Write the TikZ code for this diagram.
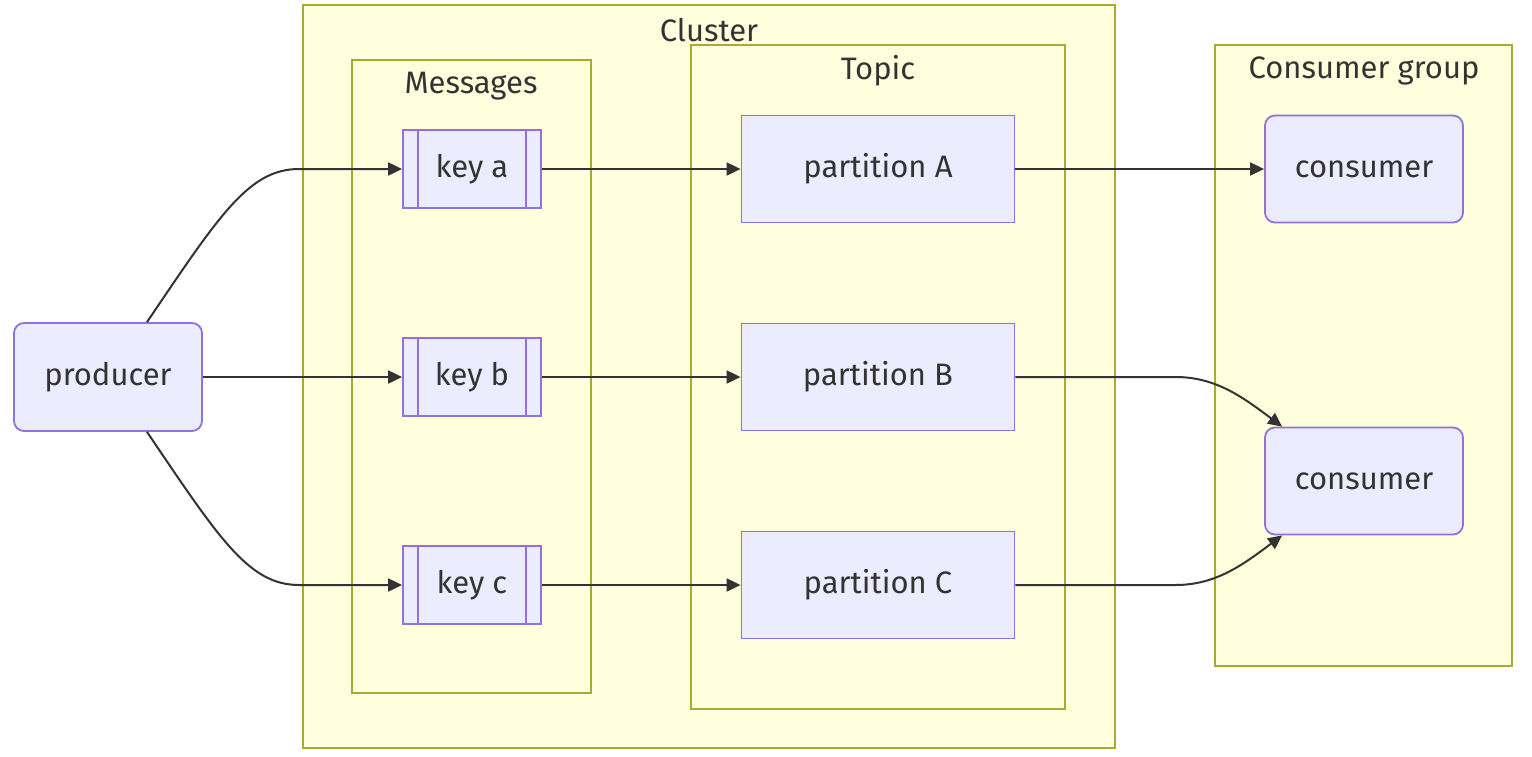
\documentclass[tikz,border=0pt]{standalone}
\usepackage{fontspec}
\setmainfont{Fira Sans}
\usetikzlibrary{arrows.meta}
\definecolor{nodefill}{HTML}{ECECFF}
\definecolor{nodeline}{HTML}{9370DB}
\definecolor{boxfill}{HTML}{FFFFDE}
\definecolor{boxline}{HTML}{AAAA33}
\definecolor{ink}{HTML}{333333}
\begin{document}
\begin{tikzpicture}[x=1pt,y=-1pt,->,>={Triangle[length=14pt,width=13pt]},
		font=\fontsize{31}{37}\selectfont,text=ink]
		\tikzstyle{group}=[draw=boxline,fill=boxfill,line width=1.8pt,inner sep=0pt]
		\tikzstyle{roundbox}=[draw=nodeline,fill=nodefill,line width=1.8pt,rounded corners=10pt]
		\tikzstyle{plainbox}=[draw=nodeline,fill=nodefill,line width=1.8pt]
		\tikzstyle{keybox}=[plainbox,minimum width=138,minimum height=78,
			path picture={\draw[-,nodeline,line width=1.8pt]
				([xshift=15pt]path picture bounding box.north west) -- ([xshift=15pt]path picture bounding box.south west)
				([xshift=-15pt]path picture bounding box.north east) -- ([xshift=-15pt]path picture bounding box.south east);}]
		\tikzstyle{flow}=[draw=ink,line width=2pt]
		
		\useasboundingbox (0,0) rectangle (1532,756);
		
		% subgraphs
		\node[group, minimum width=812, minimum height=743] (cluster) at (709,376.5) {};
		\node[group, minimum width=239, minimum height=633] (msgs)    at (471.5,376.5) {};
		\node[group, minimum width=374, minimum height=664] (topic)   at (878,377) {};
		\node[group, minimum width=297, minimum height=621] (cgroup)  at (1363.5,355.5) {};
		\node (clustertitle) at (709,30)  {Cluster};
		\node (msgstitle)    at (471,86)  {Messages};
		\node (topictitle)   at (878,71)  {Topic};
		\node (cgrouptitle)  at (1364,71) {Consumer group};
		
		% nodes
		\node[roundbox, minimum width=188, minimum height=108] (prod) at (108,377) {producer};
		\node[keybox] (ka) at (472,169) {key a};
		\node[keybox] (kb) at (472,377) {key b};
		\node[keybox] (kc) at (472,585) {key c};
		\node[plainbox, minimum width=273, minimum height=107] (pa) at (878,169) {partition A};
		\node[plainbox, minimum width=273, minimum height=107] (pb) at (878,377) {partition B};
		\node[plainbox, minimum width=273, minimum height=107] (pc) at (878,585) {partition C};
		\node[roundbox, minimum width=198, minimum height=107] (ca) at (1364,169) {consumer};
		\node[roundbox, minimum width=198, minimum height=107] (cb) at (1364,481) {consumer};
		
		% edges
		\draw[flow] ([xshift=39pt]prod.north) .. controls +(73,-108) and +(-50,0) .. ([xshift=-103pt]ka.west) -- (ka.west);
		\draw[flow] (prod) -- (kb);
		\draw[flow] ([xshift=39pt]prod.south) .. controls +(73,108) and +(-50,0) .. ([xshift=-103pt]kc.west) -- (kc.west);
		\draw[flow] (ka) -- (pa);
		\draw[flow] (kb) -- (pb);
		\draw[flow] (kc) -- (pc);
		\draw[flow] (pa) -- (ca);
		\draw[flow] (pb.east) -- ++(160,0) .. controls +(40,0) and +(-40,-30) .. ([xshift=18pt]cb.north west);
		\draw[flow] (pc.east) -- ++(160,0) .. controls +(40,0) and +(-40,30) .. ([xshift=18pt]cb.south west);
		
\end{tikzpicture}
\end{document}
